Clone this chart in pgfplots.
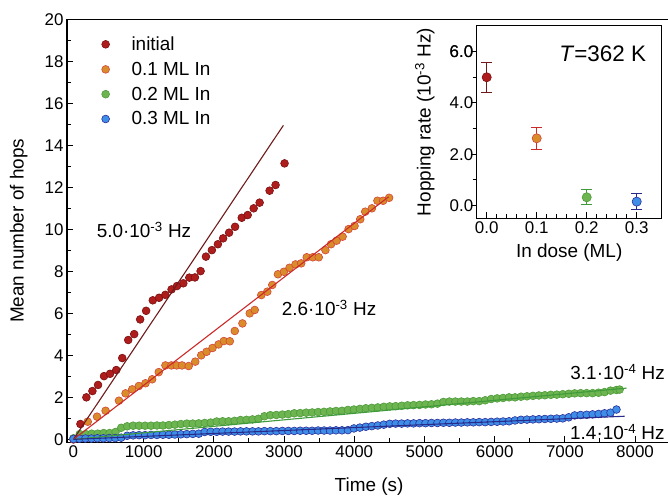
\documentclass[border=0pt]{standalone}
\usepackage{fontspec}
\setmainfont{Liberation Sans}
\usepackage{pgfplots}
\pgfplotsset{compat=1.18}

\definecolor{iniF}{HTML}{AE1C1C}
\definecolor{iniE}{HTML}{7A1212}
\definecolor{oneF}{HTML}{DB8C2A}
\definecolor{oneE}{HTML}{D4453A}
\definecolor{twoF}{HTML}{6DB550}
\definecolor{twoE}{HTML}{4E9A3A}
\definecolor{thrF}{HTML}{3E8EE8}
\definecolor{thrE}{HTML}{2B2F9A}
\definecolor{iniL}{HTML}{6E1A1A}
\definecolor{oneL}{HTML}{CC2A2A}
\definecolor{twoL}{HTML}{3E9A3A}
\definecolor{thrL}{HTML}{2A2A8A}

\begin{document}
\begin{tikzpicture}
% main panel: mean number of hops vs time
\begin{axis}[
    at={(67bp,55.5bp)}, anchor=south west,
    scale only axis, width=610.2bp, height=423.2bp,
    xmin=-92, xmax=8600, ymin=-0.15, ymax=20,
    axis line style={line width=1.3bp},
    xtick={0,1000,...,8000}, ytick={0,2,...,20},
    minor x tick num=1, minor y tick num=1,
    tick align=inside, xtick pos=bottom, ytick pos=left,
    major tick length=6bp, minor tick length=4bp,
    tick style={line width=1bp, black},
    /pgf/number format/assume math mode=true,
    /pgf/number format/1000 sep={},
    tick label style={font=\fontsize{17}{20}\selectfont},
    label style={font=\fontsize{19}{22}\selectfont},
    xlabel={Time (s)}, ylabel={Mean number of hops},
    xlabel style={at={(axis description cs:0.495,-0.105)}, anchor=center},
    ylabel style={at={(axis description cs:-0.079,0.5)}, anchor=center},
    clip mode=individual,
    legend cell align=left,
    legend image code/.code={\draw[#1] plot coordinates {(0bp,0bp)};},
    legend style={at={(axis cs:400,19.18)}, anchor=north west, draw=none, fill=none,
        inner sep=0pt, row sep=10.1bp, font=\fontsize{19}{22}\selectfont,
        nodes={inner sep=0pt},
        /tikz/every odd column/.append style={column sep=22bp}},
]

% initial
\addplot[only marks, mark=*, mark size=3.9bp, mark options={fill=iniF, draw=iniE, line width=0.6bp}]
coordinates {
(0,0) (99,0.73) (184,2.0) (270,2.3) (350,2.59) (435,3.01) (521,3.12) (610,3.3)
(695,3.87) (780,4.73) (865,5.01) (950,5.71) (1035,6.12) (1130,6.62) (1220,6.74)
(1309,6.88) (1397,7.14) (1475,7.3) (1565,7.43) (1650,7.7) (1730,7.71) (1811,8.01)
(1887,8.7) (1972,9.01) (2057,9.29) (2132,9.57) (2217,9.84) (2302,10.12) (2397,10.55)
(2482,10.68) (2567,11.0) (2652,11.27) (2794,11.84) (2879,12.11) (3007,13.14)
};
\addlegendentry{initial}

% 0.1 ML In
\addplot[only marks, mark=*, mark size=3.9bp, mark options={fill=oneF, draw=oneE, line width=0.6bp}]
coordinates {
(0,0) (203,0.84) (336,1.08) (458,1.36) (648,1.84) (742,2.19) (837,2.38) (932,2.54)
(1026,2.67) (1121,2.86) (1215,3.2) (1310,3.52) (1395,3.52) (1471,3.52) (1546,3.52)
(1641,3.49) (1735,3.7) (1820,4.0) (1896,4.17) (1981,4.35) (2067,4.52) (2142,4.68)
(2227,4.67) (2298,5.16) (2407,5.52) (2511,6.0) (2582,6.16) (2676,6.87) (2761,7.03)
(2832,7.35) (2913,7.86) (2998,7.98) (3078,8.17) (3163,8.33) (3244,8.38) (3323,8.67)
(3409,8.67) (3494,8.67) (3589,9.01) (3669,9.29) (3749,9.46) (3834,9.65) (3919,10.01)
(4004,10.16) (4085,10.48) (4156,10.84) (4251,11.0) (4330,11.36) (4411,11.36) (4496,11.5)
};
\addlegendentry{0.1 ML In}

% 0.2 ML In
\addplot[only marks, mark=*, mark size=3.9bp, mark options={fill=twoF, draw=twoE, line width=0.6bp}]
coordinates {
(0,0.05) (90,0.25) (175,0.25) (260,0.27) (345,0.27) (430,0.3) (515,0.3) (600,0.35)
(680,0.55) (765,0.62) (850,0.65) (935,0.65) (1020,0.65) (1105,0.65) (1190,0.66)
(1275,0.66) (1360,0.68) (1445,0.7) (1530,0.73) (1615,0.75) (1700,0.75) (1785,0.76)
(1870,0.78) (1955,0.8) (2040,0.85) (2125,0.86) (2210,0.86) (2295,0.88) (2380,0.92)
(2465,0.93) (2550,0.95) (2635,0.98) (2720,1.1) (2805,1.15) (2890,1.16) (2975,1.18)
(3060,1.2) (3145,1.24) (3230,1.25) (3315,1.27) (3400,1.28) (3485,1.3) (3570,1.31)
(3655,1.33) (3740,1.35) (3825,1.36) (3910,1.4) (3995,1.42) (4080,1.45) (4165,1.48)
(4250,1.5) (4335,1.52) (4420,1.55) (4505,1.57) (4590,1.58) (4675,1.6) (4760,1.62)
(4845,1.63) (4930,1.64) (5015,1.66) (5100,1.67) (5185,1.7) (5270,1.78) (5355,1.8)
(5440,1.8) (5525,1.8) (5610,1.8) (5695,1.82) (5780,1.82) (5865,1.86) (5950,1.92)
(6035,1.95) (6120,1.97) (6205,2.0) (6290,2.0) (6375,2.03) (6460,2.05) (6545,2.07)
(6630,2.09) (6715,2.1) (6800,2.12) (6885,2.13) (6970,2.15) (7055,2.17) (7140,2.19)
(7225,2.2) (7310,2.2) (7395,2.2) (7480,2.22) (7565,2.25) (7650,2.32) (7735,2.35) (7780,2.37)
};
\addlegendentry{0.2 ML In}

% 0.3 ML In
\addplot[only marks, mark=*, mark size=3.9bp, mark options={fill=thrF, draw=thrE, line width=0.6bp}]
coordinates {
(0,0.02) (85,0.03) (170,0.04) (255,0.04) (340,0.05) (425,0.05) (510,0.06) (595,0.06)
(680,0.08) (765,0.17) (850,0.19) (935,0.2) (1020,0.2) (1105,0.21) (1190,0.21)
(1275,0.22) (1360,0.22) (1445,0.23) (1530,0.24) (1615,0.25) (1700,0.26) (1785,0.27)
(1870,0.35) (1955,0.36) (2040,0.36) (2125,0.37) (2210,0.37) (2295,0.37) (2380,0.38)
(2465,0.38) (2550,0.38) (2635,0.38) (2720,0.39) (2805,0.39) (2890,0.39) (2975,0.4)
(3060,0.4) (3145,0.4) (3230,0.41) (3315,0.41) (3400,0.41) (3485,0.42) (3570,0.42)
(3655,0.42) (3740,0.43) (3825,0.43) (3910,0.44) (3995,0.52) (4080,0.56) (4165,0.6)
(4250,0.63) (4335,0.66) (4420,0.7) (4505,0.74) (4590,0.75) (4675,0.75) (4760,0.76)
(4845,0.76) (4930,0.77) (5015,0.77) (5100,0.78) (5185,0.78) (5270,0.79) (5355,0.79)
(5440,0.8) (5525,0.8) (5610,0.81) (5695,0.81) (5780,0.82) (5865,0.82) (5950,0.83)
(6035,0.84) (6120,0.85) (6205,0.86) (6290,0.9) (6375,0.93) (6460,0.94) (6545,0.95)
(6630,0.96) (6715,0.97) (6800,0.98) (6885,0.99) (6970,1.0) (7055,1.05) (7140,1.14)
(7225,1.16) (7310,1.17) (7395,1.19) (7480,1.21) (7565,1.24) (7650,1.27) (7735,1.42)
};
\addlegendentry{0.3 ML In}

% linear fits
\addplot[iniL, line width=1.1bp, forget plot] coordinates {(0,0) (2990,14.95)};
\addplot[oneL, line width=1.1bp, forget plot] coordinates {(0,0) (4490,11.55)};
\addplot[twoL, line width=1.1bp, forget plot] coordinates {(0,0) (7880,2.44)};
\addplot[thrL, line width=1.1bp, forget plot] coordinates {(0,0) (7850,1.1)};

\node[anchor=west, inner sep=0pt, font=\fontsize{19}{22}\selectfont] at (axis cs:330,9.97) {5.0·10\textsuperscript{-3} Hz};
\node[anchor=west, inner sep=0pt, font=\fontsize{19}{22}\selectfont] at (axis cs:2966,6.24) {2.6·10\textsuperscript{-3} Hz};
\node[anchor=east, inner sep=0pt, font=\fontsize{19}{22}\selectfont] at (axis cs:8426,3.2) {3.1·10\textsuperscript{-4} Hz};
\node[anchor=west, inner sep=0pt, font=\fontsize{19}{22}\selectfont] at (axis cs:7073,0.36) {1.4·10\textsuperscript{-4} Hz};
\end{axis}

% inset: hopping rate vs In dose
\begin{axis}[
    at={(476.7bp,279.7bp)}, anchor=south west,
    scale only axis, width=185bp, height=192.3bp,
    xmin=-0.02, xmax=0.35, ymin=-0.5, ymax=7,
    axis background/.style={fill=white},
    axis line style={line width=1bp},
    xtick={0,0.1,0.2,0.3}, xticklabels={0.0,0.1,0.2,0.3},
    ytick={0,2,4,6}, yticklabels={0.0,2.0,4.0,6.0},
    extra y ticks={6}, extra y tick labels={6.0},
    minor x tick num=4, minor y tick num=1,
    xtick pos=bottom, ytick pos=left,
    tick align=inside,
    y tick style={/pgfplots/tick align=outside},
    major tick length=6bp, minor tick length=4bp,
    tick style={line width=0.9bp, black},
    tick label style={font=\fontsize{17}{20}\selectfont},
    label style={font=\fontsize{19}{22}\selectfont},
    xlabel={In dose (ML)}, ylabel={Hopping rate (10\textsuperscript{-3} Hz)},
    xlabel style={at={(axis description cs:0.5,-0.18)}, anchor=center},
    ylabel style={at={(axis description cs:-0.28,0.5)}, anchor=center},
    clip=false,
]
\addplot[only marks, mark=*, mark size=4.6bp, mark options={fill=iniF, draw=iniE, line width=0.6bp},
    error bars/.cd, y dir=both, y explicit,
    error bar style={iniL, line width=1bp},
    error mark options={iniL, line width=1bp, mark size=5.5bp, rotate=90}]
coordinates {(0,5.0) +- (0,0.58)};
\addplot[only marks, mark=*, mark size=4.6bp, mark options={fill=oneF, draw=oneE, line width=0.6bp},
    error bars/.cd, y dir=both, y explicit,
    error bar style={oneL, line width=1bp},
    error mark options={oneL, line width=1bp, mark size=5.5bp, rotate=90}]
coordinates {(0.1,2.62) +- (0,0.44)};
\addplot[only marks, mark=*, mark size=4.6bp, mark options={fill=twoF, draw=twoE, line width=0.6bp},
    error bars/.cd, y dir=both, y explicit,
    error bar style={twoL, line width=1bp},
    error mark options={twoL, line width=1bp, mark size=5.5bp, rotate=90}]
coordinates {(0.2,0.32) +- (0,0.3)};
\addplot[only marks, mark=*, mark size=4.6bp, mark options={fill=thrF, draw=thrE, line width=0.6bp},
    error bars/.cd, y dir=both, y explicit,
    error bar style={thrL, line width=1bp},
    error mark options={thrL, line width=1bp, mark size=5.5bp, rotate=90}]
coordinates {(0.3,0.15) +- (0,0.31)};

\node[anchor=east, inner sep=0pt, font=\fontsize{22.5}{26}\selectfont] at (axis cs:0.319,5.93) {\textit{T}=362 K};
\end{axis}

\pgfresetboundingbox
\path[use as bounding box] (0bp,0bp) rectangle (668bp,498bp);
\end{tikzpicture}
\end{document}
